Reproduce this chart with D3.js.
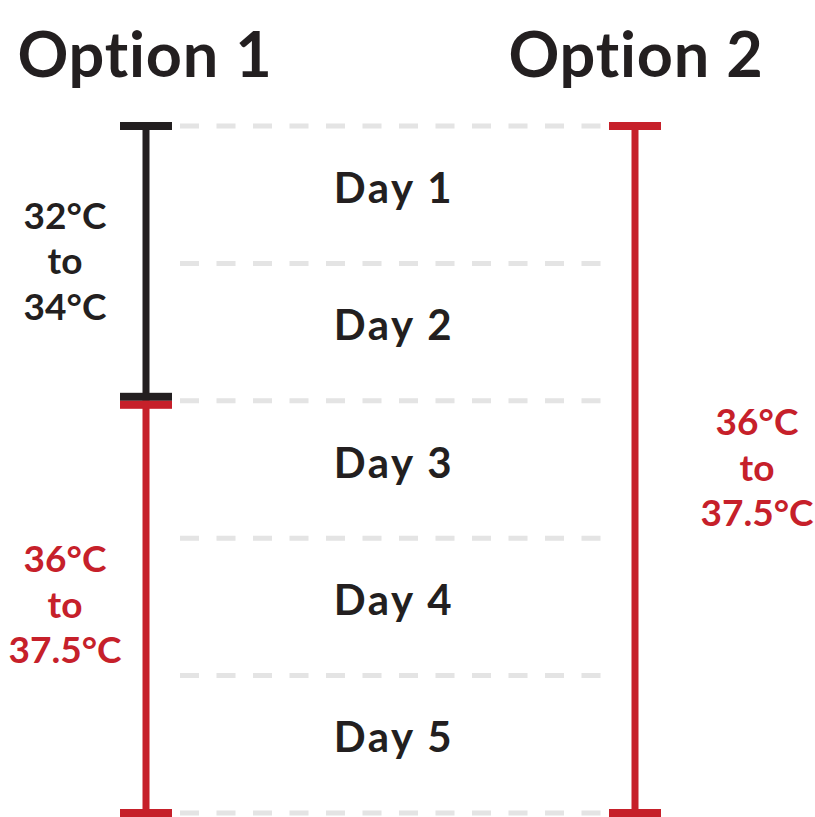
<!DOCTYPE html>
<html><head><meta charset="utf-8">
<script src="https://cdn.jsdelivr.net/npm/d3@7"></script>
<style>html,body{margin:0;padding:0;background:#fff;}</style>
</head><body>
<svg id="chart" width="815" height="817"></svg>
<script>
const titles = ["Option 1", "Option 2"];
const days = ["Day 1", "Day 2", "Day 3", "Day 4", "Day 5"];
// segments: option index, start day boundary, end day boundary, temperature label lines, kind
const segOption = [0, 0, 1];
const segStart = [0, 2, 0];
const segEnd = [2, 5, 5];
const segLabels = [["32°C", "to", "34°C"], ["36°C", "to", "37.5°C"], ["36°C", "to", "37.5°C"]];
const segKind = ["low", "high", "high"];

const FONT = "Lato, 'Open Sans', sans-serif";
const BLACK = "#231f20", RED = "#c6202a", GRID = "#e4e4e4";
const svg = d3.select("#chart");

const y = d3.scaleLinear().domain([0, days.length]).range([126, 813]);
const xOpt = d3.scaleOrdinal().domain([0, 1]).range([146, 635]);
const xLabel = d3.scaleOrdinal().domain([0, 1]).range([65, 757]);
const xTitle = d3.scaleOrdinal().domain([0, 1]).range([145, 636]);
const color = d3.scaleOrdinal().domain(["low", "high"]).range([BLACK, RED]);

// gridlines
svg.append("g").selectAll("line").data(d3.range(days.length + 1)).join("line")
  .attr("x1", 180).attr("x2", 605)
  .attr("y1", d => y(d)).attr("y2", d => y(d))
  .attr("stroke", GRID).attr("stroke-width", 5)
  .attr("stroke-dasharray", "19 17.5");

// day labels
svg.append("g").selectAll("text").data(days).join("text")
  .attr("x", 394).attr("y", (d, i) => (y(i) + y(i + 1)) / 2 + 8)
  .attr("text-anchor", "middle")
  .attr("font-family", FONT).attr("font-weight", 700).attr("font-size", 42)
  .attr("letter-spacing", 2.5)
  .attr("fill", BLACK).text(d => d);

// titles
svg.append("g").selectAll("text").data(titles).join("text")
  .attr("x", (d, i) => xTitle(i)).attr("y", 77)
  .attr("text-anchor", "middle")
  .attr("font-family", FONT).attr("font-weight", 700).attr("font-size", 63)
  .attr("letter-spacing", 0.8)
  .attr("fill", BLACK).text(d => d);

// segments
const segs = segOption.map((o, i) => ({o, s: segStart[i], e: segEnd[i], lab: segLabels[i], k: segKind[i]}));
const g = svg.append("g");
segs.forEach(d => {
  const c = color(d.k), x = xOpt(d.o);
  const y0 = y(d.s), y1 = y(d.e);
  g.append("line").attr("x1", x).attr("x2", x).attr("y1", y0).attr("y2", y1)
    .attr("stroke", c).attr("stroke-width", 7);
  g.append("rect").attr("x", x - 26).attr("width", 52).attr("height", 8)
    .attr("y", d.s === 0 ? y0 - 4 : y0).attr("fill", c);
  g.append("rect").attr("x", x - 26).attr("width", 52).attr("height", 8)
    .attr("y", d.e === days.length ? y1 - 4 : y1 - 8).attr("fill", c);
  const mid = (y0 + y1) / 2;
  g.append("g").selectAll("text").data(d.lab).join("text")
    .attr("x", xLabel(d.o)).attr("y", (t, j) => mid + (j - 1) * 45.5 + 11)
    .attr("text-anchor", "middle")
    .attr("font-family", FONT).attr("font-weight", 700).attr("font-size", 37)
    .attr("fill", c).text(t => t);
});
</script>
</body></html>
